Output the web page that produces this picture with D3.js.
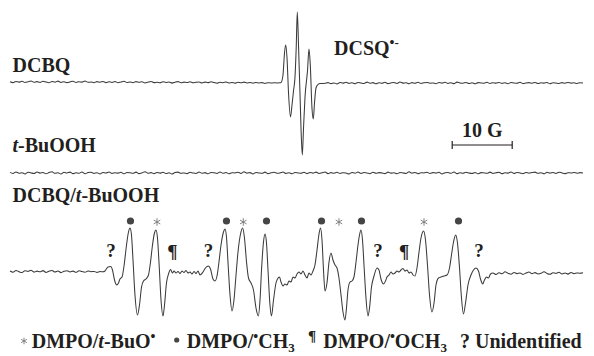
<!DOCTYPE html>
<html><head><meta charset="utf-8">
<script src="https://cdn.jsdelivr.net/npm/d3@7"></script>
<style>
html,body{margin:0;padding:0;background:#fff;}
svg{display:block;}
text{font-family:"Liberation Serif","Times New Roman",serif;font-weight:bold;fill:#231f20;}
</style></head><body>
<svg id="chart" width="594" height="356"></svg>
<script>
// ---------- DATA (field in G, signal in arbitrary units) ----------
const FIELD_STEP = 0.5;

// DCBQ trace
const dcbqNoiseLeftStart = 0;
const dcbqNoiseLeft = [
 1.2,0.4,1.6,0.9,1.8,0.5,1.3,2.0,0.7,1.4,
 0.6,1.7,1.0,0.3,1.5,0.8,1.9,0.6,1.2,0.4,
 1.1,1.8,0.5,1.3,0.9,2.1,0.7,1.0,0.3,1.4,
 0.8,1.6,0.4,1.2,0.6,1.5,0.2,1.0,1.7,0.5,
 1.1,0.3,1.4,0.7,1.2,0.1,0.9,1.5,0.4,0.8,
 0.2,1.3,0.6,1.0,-0.1,0.8,1.4,0.3,0.9,0.5,
 1.2,0.2,0.7,1.1,0.0,0.9,0.4,1.3,0.5,-0.2,
 0.8,0.3,1.0,0.1,0.6,-0.3,0.7,0.2,0.9,0.0,
 0.5,-0.2,0.6,0.1,0.4,-0.4,0.3,0.0,0.2,0.1,
 0.2];
const dcbqSignal = [
 [45.17,0.5],[45.5,8],[45.75,30],[45.95,38],[46.17,25],[46.42,-10],[46.75,-34],
 [47.0,-22],[47.25,-8],[47.5,6],[47.7,35],[47.88,71],[48.1,35],[48.33,-10],
 [48.5,-45],[48.72,-72],[48.92,-45],[49.17,-14],[49.58,12],[49.83,34],[50.05,18],
 [50.33,-25],[50.55,-36],[50.75,-20],[51.0,-5],[51.33,-1.5],[51.67,-0.5]];
const dcbqNoiseRightStart = 52.0;
const dcbqNoiseRight = [
 -0.5,-0.2,0.4,-0.6,0.1,-0.9,0.5,-0.1,0.8,-0.4,
 0.3,-0.7,0.6,0.0,-0.5,0.9,-0.2,0.4,-0.8,0.2,
 -0.3,0.7,-0.6,0.1,0.5,-0.4,1.0,-0.1,0.3,-0.7,
 0.4,-0.2,0.8,-0.5,0.2,0.6,-0.3,0.1,-0.8,0.5,
 -0.1,0.7,-0.4,0.3,-0.6,0.9,0.0,-0.3,0.6,-0.5,
 0.2,-0.8,0.4,0.1,-0.2,0.7,-0.5,0.3,-0.1,0.6,
 -0.4,0.2,-0.7,0.5,0.0,-0.3,0.8,-0.6,0.1,0.4,
 -0.2,0.6,-0.5,0.2,-0.1,0.5,-0.7,0.3,0.0,-0.4,
 0.4,-0.3,0.6,-0.1,0.2,-0.5,0.3,0.1];

// t-BuOOH trace
const tbuNoiseStart = 0;
const tbuNoise = [
 0.6,-0.4,1.1,-0.2,0.3,-0.9,0.8,0.1,-0.5,1.0,
 -0.1,0.5,-0.8,0.4,1.2,-0.3,0.2,-1.0,0.7,0.0,
 0.9,-0.6,0.3,-0.2,1.0,-0.7,0.4,0.8,-0.4,0.2,
 -0.9,0.6,0.0,1.1,-0.5,0.3,-0.1,0.7,-0.8,0.5,
 0.2,-0.3,0.9,-0.6,0.1,1.3,-0.2,0.4,-0.7,0.6,
 -0.1,0.8,-0.5,0.2,-1.0,0.5,0.9,-0.3,0.1,-0.6,
 0.7,0.0,-0.4,1.0,-0.2,0.4,-0.8,0.6,0.2,-0.5,
 1.1,-0.3,0.5,-0.7,0.3,0.0,0.8,-0.4,1.2,-0.1,
 0.4,-0.9,0.6,0.1,-0.3,0.9,-0.6,0.2,0.7,-0.2,
 0.0,1.0,-0.5,0.3,-0.8,0.5,0.1,-0.3,0.8,-0.7,
 0.6,-0.1,0.9,-0.4,0.2,1.1,-0.6,0.4,-0.2,0.7,
 -0.5,0.3,0.0,-0.9,0.6,-0.2,1.0,-0.4,0.5,0.1,
 -0.7,0.8,-0.3,0.4,0.0,-0.6,0.9,-0.1,0.3,-0.8,
 0.5,0.1,-0.4,1.2,-0.2,0.6,-0.7,0.3,0.0,0.8,
 -0.5,0.4,-0.1,0.7,-0.9,0.2,0.5,-0.3,1.0,-0.6,
 0.3,-0.2,0.8,0.0,-0.5,0.6,-0.8,0.4,0.1,-0.3,
 0.9,-0.4,0.2,0.7,-0.6,0.3,-0.1,1.1,-0.5,0.5,
 0.0,-0.7,0.6,-0.2,0.4,0.9,-0.3,0.2,-0.8,0.7,
 -0.1,0.5,-0.4,0.8,0.1,-0.6,0.3,0.0,0.6,-0.2,
 0.4,0.1];

// DCBQ / t-BuOOH trace
const mixNoiseLeftStart = 0;
const mixNoiseLeft = [
 1.0,-0.2,1.6,0.3,-0.5,1.2,0.6,1.8,-0.1,0.9,
 0.2,1.4,-0.4,0.8,1.5,0.0,1.1,-0.6,0.7,1.3,
 0.1,0.9,-0.3,1.2,0.4,-0.2,1.0,0.3,0.6,-0.4,
 0.5,0.2];
const mixSignal = [
 [15.83,1],[16.33,5],[16.78,5.5],[17.08,2],[17.42,-8],[17.78,-13],[18.08,-11],[18.33,-7],
 [18.67,-5],[19.0,6],[19.42,27],[19.75,40],[20.0,44],[20.25,37],[20.5,12],[20.83,-23],
 [21.25,-43],[21.58,-33],[21.92,-15],[22.25,-9],[22.67,-7],[23.08,-3],[23.42,10],[23.75,27],
 [24.08,39],[24.33,42],[24.58,34],[24.83,10],[25.17,-28],[25.5,-44],[25.75,-33],[26.08,-11],
 [26.42,-2],[26.75,2.5],[27.08,-1],[27.33,1],[27.67,-1],[28.0,0.5],[28.33,-1.5],[28.67,1],
 [29.0,-0.5],[29.33,1.5],[29.67,-1],[30.0,0],[30.33,-2],[30.67,0.5],[31.0,-1.5],[31.33,1],
 [31.67,-3],[32.17,0],[32.58,4],[33.05,6],[33.42,3],[33.83,-7],[34.17,-9],[34.5,-4],
 [34.83,10],[35.17,27],[35.58,40],[35.83,43],[36.08,35],[36.33,10],[36.67,-23],[37.0,-39],
 [37.33,-28],[37.67,-3],[38.0,20],[38.42,38],[38.78,44],[39.08,34],[39.42,10],[39.75,-6],
 [40.17,-11],[40.58,-18],[41.0,-36],[41.38,-44],[41.67,-28],[41.92,2],[42.25,30],[42.5,38],
 [42.75,29],[43.0,2],[43.33,-33],[43.58,-44],[43.92,-28],[44.33,-11],[44.58,-7],[44.92,-5],
 [45.17,-10],[45.5,-14],[45.83,-12],[46.17,-13],[46.5,-9],[46.83,-10],[47.17,-5],[47.5,-6],
 [47.83,-2],[48.17,0],[48.5,-2],[48.83,1],[49.17,-3],[49.5,-6],[49.83,-1],[50.17,-3],
 [50.5,1],[50.83,7],[51.17,22],[51.5,38],[51.75,44],[52.0,32],[52.25,2],[52.5,-19],
 [52.83,-11],[53.17,10],[53.5,19],[53.83,12],[54.17,7],[54.5,4],[54.83,-6],[55.17,-23],
 [55.5,-40],[55.83,-48],[56.08,-36],[56.33,-18],[56.67,-10],[57.0,-9],[57.33,-5],[57.67,10],
 [58.0,27],[58.25,37],[58.5,42],[58.75,32],[59.0,7],[59.33,-26],[59.67,-44],[59.92,-36],
 [60.25,-15],[60.67,-4],[61.17,4],[61.5,2],[61.83,-7],[62.25,-12],[62.58,-9],[62.83,-5],
 [63.17,-3],[63.5,0],[63.83,-2],[64.17,-1],[64.5,1],[64.83,0],[65.17,2],[65.5,3.5],
 [65.83,1],[66.17,2],[66.5,-1],[66.83,0],[67.17,-3],[67.5,-4],[67.83,4],[68.17,20],
 [68.5,34],[68.92,41],[69.25,32],[69.58,7],[69.92,-23],[70.33,-40],[70.67,-31],[71.0,-13],
 [71.42,-6],[71.83,-5],[72.33,-4],[72.83,-3],[73.25,4],[73.58,17],[73.92,30],[74.28,37],
 [74.58,29],[74.92,4],[75.25,-26],[75.58,-42],[75.92,-31],[76.33,-13],[76.83,-3],[77.25,2],
 [77.67,4],[78.08,1],[78.42,-7],[78.78,-12],[79.08,-8],[79.42,-5],[79.75,-6],[80.08,-2]];
const mixNoiseRightStart = 80.5;
const mixNoiseRight = [
 -1.0,-2.5,-0.8,-1.8,0.2,-1.2,-2.2,-0.5,-1.6,-0.9,
 -2.4,-1.1,0.0,-1.7,-0.6,-2.0,-1.3,0.3,-1.5,-2.3,
 -0.7,-1.4,-0.2,-1.9,-1.0,-2.1,-0.4,-1.6,-0.9,-1.3,
 -0.8];

// spin-adduct line assignments (field positions, G)
const dotFields = [20.08, 36.08, 42.75, 51.92, 58.58, 74.75];   // DMPO/•CH3
const starFields = [24.5, 38.88, 54.83, 69.0];                  // DMPO/t-BuO•
const paraFields = [27.08, 65.67];                              // DMPO/•OCH3
const unknownFields = [16.83, 33.08, 61.33, 78.17];             // unidentified

const scaleBarGauss = 10;
const scaleBarStart = 73.7;

// ---------- DRAWING ----------
const svg = d3.select("#chart");
const x = d3.scaleLinear().domain([0, 95.6]).range([10, 583.6]);
const y = d3.scaleLinear().domain([-80, 80]).range([80, -80]);

const seg = (start, vals) => vals.map((v, i) => [start + i * FIELD_STEP, v]);

const traces = [
  {baseline: 83, points: seg(dcbqNoiseLeftStart, dcbqNoiseLeft).concat(dcbqSignal, seg(dcbqNoiseRightStart, dcbqNoiseRight))},
  {baseline: 173, points: seg(tbuNoiseStart, tbuNoise)},
  {baseline: 272, points: seg(mixNoiseLeftStart, mixNoiseLeft).concat(mixSignal, seg(mixNoiseRightStart, mixNoiseRight))}
];

const line = d3.line().x(d => x(d[0])).y(d => y(d[1])).curve(d3.curveMonotoneX);

traces.forEach(t => {
  svg.append("g").attr("transform", `translate(0,${t.baseline})`)
    .append("path").datum(t.points)
    .attr("d", line).attr("fill", "none")
    .attr("stroke", "#3a3a3a").attr("stroke-width", 1.05)
    .attr("stroke-linejoin", "round");
});

// trace labels
const lbl = (tx, ty, parts, size) => {
  const t = svg.append("text").attr("x", tx).attr("y", ty).attr("font-size", size);
  parts.forEach(p => {
    const s = t.append("tspan").text(p.t);
    if (p.i) s.attr("font-style", "italic");
    if (p.fs) s.attr("font-size", p.fs);
    if (p.dy) s.attr("dy", p.dy);
  });
  return t;
};
lbl(12.5, 71.5, [{t: "DCBQ"}], 20);
lbl(12.5, 151.5, [{t: "t", i: 1}, {t: "-BuOOH"}], 20);
lbl(12.5, 201.5, [{t: "DCBQ/"}, {t: "t", i: 1}, {t: "-BuOOH"}], 20);
lbl(334, 55, [{t: "DCSQ"}, {t: "•", fs: 14, dy: -8}, {t: "-", fs: 13}], 20);

// scale bar
const sb = svg.append("g").attr("stroke", "#231f20").attr("stroke-width", 1.2);
const sx0 = x(scaleBarStart), sx1 = x(scaleBarStart + scaleBarGauss);
sb.append("line").attr("x1", sx0).attr("x2", sx1).attr("y1", 145).attr("y2", 145);
sb.append("line").attr("x1", sx0).attr("x2", sx0).attr("y1", 141).attr("y2", 149);
sb.append("line").attr("x1", sx1).attr("x2", sx1).attr("y1", 141).attr("y2", 149);
svg.append("text").attr("x", (sx0 + sx1) / 2).attr("y", 136.5).attr("text-anchor", "middle")
  .attr("font-size", 20).text(scaleBarGauss + " G");

// markers on bottom trace
const mb = 272;
svg.selectAll("circle.dot").data(dotFields).join("circle").attr("class", "dot")
  .attr("cx", d => x(d)).attr("cy", mb + y(51)).attr("r", 3.6).attr("fill", "#454545");
const star = d3.symbol(d3.symbolAsterisk, 40);
svg.selectAll("path.star").data(starFields).join("path").attr("class", "star")
  .attr("transform", d => `translate(${x(d)},${mb + y(50)})`)
  .attr("d", star).attr("fill", "none").attr("stroke", "#777").attr("stroke-width", 0.9);
svg.selectAll("text.para").data(paraFields).join("text").attr("class", "para")
  .attr("x", d => x(d)).attr("y", mb + y(14)).attr("text-anchor", "middle")
  .attr("font-size", 19).text("¶");
svg.selectAll("text.unk").data(unknownFields).join("text").attr("class", "unk")
  .attr("x", d => x(d)).attr("y", mb + y(15)).attr("text-anchor", "middle")
  .attr("font-size", 19).text("?");

// legend
const LB = 348;
svg.append("path").attr("transform", `translate(24,341)`).attr("d", d3.symbol(d3.symbolAsterisk, 30))
  .attr("fill", "none").attr("stroke", "#777").attr("stroke-width", 0.9);
lbl(31.7, LB, [{t: "DMPO/"}, {t: "t", i: 1}, {t: "-BuO"}, {t: "•", fs: 14, dy: -7}], 20);
svg.append("circle").attr("cx", 176.7).attr("cy", 340).attr("r", 2.6).attr("fill", "#454545");
lbl(186.7, LB, [{t: "DMPO/"}, {t: "•", fs: 14, dy: -7}, {t: "CH", dy: 7}, {t: "3", fs: 13, dy: 4}], 20);
lbl(308, 341, [{t: "¶"}], 15);
lbl(323.3, LB, [{t: "DMPO/"}, {t: "•", fs: 14, dy: -7}, {t: "OCH", dy: 7}, {t: "3", fs: 13, dy: 4}], 20);
lbl(460, LB, [{t: "?"}], 20);
lbl(475, LB, [{t: "Unidentified"}], 20);
</script>
</body></html>
